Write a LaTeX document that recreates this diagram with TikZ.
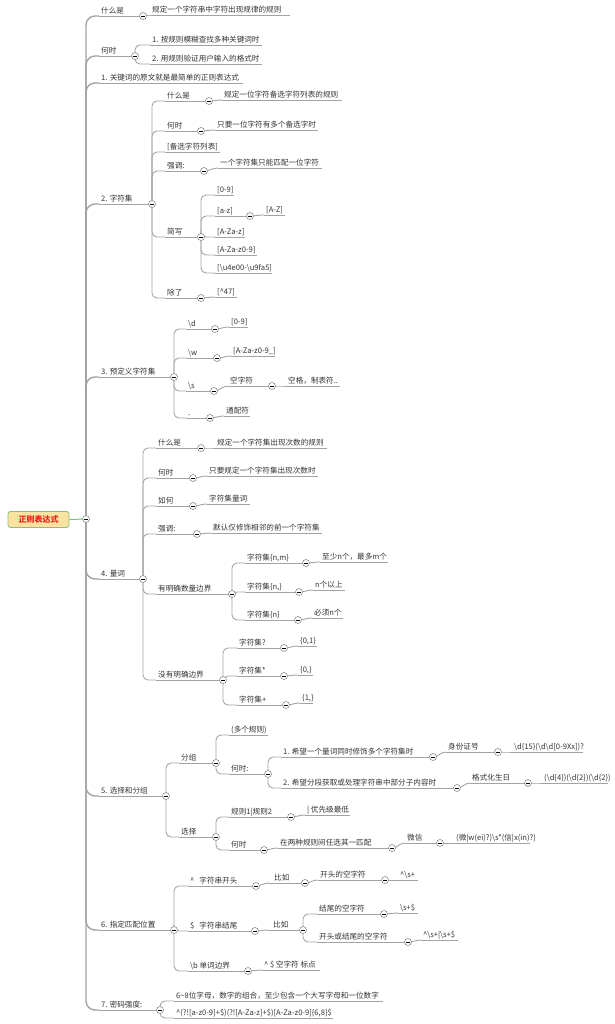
\documentclass[tikz,border=0pt]{standalone}
\usepackage{fontspec}
\setmainfont{Noto Sans CJK SC}
\usetikzlibrary{backgrounds}
\definecolor{txtc}{HTML}{333333}
\definecolor{linec}{HTML}{A3A3A3}
\definecolor{circc}{HTML}{8C8C8C}
\definecolor{rootfill}{HTML}{FCE3A0}
\definecolor{rootdraw}{HTML}{86C07F}
\definecolor{rootred}{HTML}{E8231B}
\definecolor{rootline}{HTML}{7DBF7D}
\tikzset{
 txt/.style={anchor=base west, inner sep=0pt, text=txtc, font=\fontsize{7.6}{9}\selectfont},
 uline/.style={draw=linec, line width=0.9pt},
 conn/.style={draw=linec, line width=0.9pt},
 conn1/.style={draw=linec, line width=1.4pt},
 coll/.style={circle, draw=circc, fill=white, line width=0.6pt, minimum size=7pt, inner sep=0pt,
   path picture={\draw[black, line width=0.8pt] ([xshift=-2pt]path picture bounding box.center) -- ([xshift=2pt]path picture bounding box.center);}},
 rootbox/.style={draw=rootdraw, fill=rootfill, rounded corners=2.5pt, minimum width=61pt, minimum height=16pt,
   line width=0.8pt, text=rootred, inner sep=0pt, font=\fontsize{8}{9}\selectfont\bfseries}
}
\newcommand\tleaf[5]{\coordinate (#1-i) at (#2,#4); \draw[uline] (#2,#4) -- (#3,#4); \node[txt] (#1) at (#2+2,#4-2.5) {#5};}
\newcommand\tpar[5]{\tleaf{#1}{#2}{#3}{#4}{#5} \node[coll] (#1-c) at (#3,#4) {};}
\newcommand\cmulti[2]{\begin{scope}[on background layer]\draw[conn, rounded corners=5pt] (#1-c.center) |- (#2-i);\end{scope}}
\newcommand\csingle[2]{\begin{scope}[on background layer]\draw[conn] (#1-c.center) to[out=0,in=180] (#2-i);\end{scope}}
\newcommand\cmain[1]{\begin{scope}[on background layer]\draw[conn1, rounded corners=9pt] (m-c.center) |- (#1-i);\end{scope}}
\begin{document}
\begin{tikzpicture}[x=1pt,y=-1pt]
\useasboundingbox (0,0) rectangle (614,1024);
% root
\node[rootbox] (root) at (38.5,519.5) {正则表达式};
\node[coll] (m-c) at (86,519) {};
\begin{scope}[on background layer]\draw[rootline, line width=1pt] (root.east) -- (m-c.center);\end{scope}

% level 1
\tpar{a1}{99}{143}{16}{什么是}
\tleaf{a1a}{150}{290}{15}{规定一个字符串中字符出现规律的规则}
\tpar{a2}{99}{135}{56}{何时}
\tleaf{a2a}{150}{262}{45}{1. 按规则模糊查找多种关键词时}
\tleaf{a2b}{150}{262}{64}{2. 用规则验证用户输入的格式时}
\tleaf{a3}{99}{243}{83}{1. 关键词的原文就是最简单的正则表达式}
\tpar{a4}{99}{152}{204}{2. 字符集}
\tpar{a5}{99}{174}{377}{3. 预定义字符集}
\tpar{a6}{99}{143}{579}{4. 量词}
\tpar{a7}{99}{166}{796}{5. 选择和分组}
\tpar{a8}{99}{174}{930}{6. 指定匹配位置}
\tpar{a9}{99}{160}{1010}{7. 密码强度:}
\foreach \n in {a1,a2,a3,a4,a5,a6,a7,a8,a9} {\cmain{\n}}
\csingle{a1}{a1a}
\cmulti{a2}{a2a}\cmulti{a2}{a2b}

% 2. 字符集
\tpar{b1}{165}{209}{101}{什么是}
\tleaf{b1a}{222}{342}{100}{规定一位字符备选字符列表的规则}
\tpar{b2}{165}{201}{131}{何时}
\tleaf{b2a}{215}{318}{130}{只要一位字符有多个备选字时}
\tleaf{b3}{165}{220}{152}{[备选字符列表]}
\tpar{b4}{165}{204}{171}{强调:}
\tleaf{b4a}{218}{322}{168}{一个字符集只能匹配一位字符}
\tpar{b5}{165}{201}{237}{简写}
\tleaf{b5a}{215}{234}{195}{[0-9]}
\tpar{b5b}{215}{250}{216}{[a-z]}
\tleaf{b5b1}{264}{285}{215}{[A-Z]}
\tleaf{b5c}{215}{245}{237}{[A-Za-z]}
\tleaf{b5d}{215}{257}{255}{[A-Za-z0-9]}
\tleaf{b5e}{215}{272}{273}{[\textbackslash u4e00-\textbackslash u9fa5]}
\tpar{b6}{165}{201}{298}{除了}
\tleaf{b6a}{215}{237}{297}{[\textasciicircum 47]}
\foreach \n in {b1,b2,b3,b4,b5,b6} {\cmulti{a4}{\n}}
\csingle{b1}{b1a}\csingle{b2}{b2a}\csingle{b4}{b4a}
\foreach \n in {b5a,b5b,b5c,b5d,b5e} {\cmulti{b5}{\n}}
\csingle{b5b}{b5b1}\csingle{b6}{b6a}

% 3. 预定义字符集
\tpar{c1}{186}{215}{329}{\textbackslash d}
\tleaf{c1a}{229}{248}{327}{[0-9]}
\tpar{c2}{186}{217}{358}{\textbackslash w}
\tleaf{c2a}{231}{275}{356}{[A-Za-z0-9\_]}
\tpar{c3}{186}{214}{391}{\textbackslash s}
\tpar{c3a}{228}{272}{386}{空字符}
\tleaf{c3a1}{286}{340}{386}{空格，制表符..}
\tpar{c4}{186}{210}{418}{.}
\tleaf{c4a}{224}{250}{416}{通配符}
\foreach \n in {c1,c2,c3,c4} {\cmulti{a5}{\n}}
\csingle{c1}{c1a}\csingle{c2}{c2a}\csingle{c3}{c3a}\csingle{c3a}{c3a1}\csingle{c4}{c4a}

% 4. 量词
\tpar{d1}{156}{201}{448}{什么是}
\tleaf{d1a}{215}{327}{448}{规定一个字符集出现次数的规则}
\tpar{d2}{156}{193}{478}{何时}
\tleaf{d2a}{207}{318}{476}{只要规定一个字符集出现次数时}
\tpar{d3}{156}{193}{506}{如何}
\tleaf{d3a}{207}{250}{504}{字符集量词}
\tpar{d4}{156}{197}{534}{强调:}
\tleaf{d4a}{211}{322}{533}{默认仅修饰相邻的前一个字符集}
\tpar{d5}{156}{232}{594}{有明确数量边界}
\tpar{d5a}{245}{306}{563}{字符集\{n,m\}}
\tleaf{d5a1}{320}{388}{562}{至少n个，最多m个}
\tpar{d5b}{245}{299}{592}{字符集\{n,\}}
\tleaf{d5b1}{313}{345}{590}{n个以上}
\tpar{d5c}{245}{298}{620}{字符集\{n\}}
\tleaf{d5c1}{312}{343}{618}{必须n个}
\tpar{d6}{156}{223}{680}{没有明确边界}
\tpar{d6a}{237}{284}{648}{字符集?}
\tleaf{d6a1}{298}{317}{646}{\{0,1\}}
\tpar{d6b}{237}{284}{676}{字符集*}
\tleaf{d6b1}{298}{313}{675}{\{0,\}}
\tpar{d6c}{237}{286}{705}{字符集+}
\tleaf{d6c1}{300}{313}{703}{\{1,\}}
\foreach \n in {d1,d2,d3,d4,d5,d6} {\cmulti{a6}{\n}}
\csingle{d1}{d1a}\csingle{d2}{d2a}\csingle{d3}{d3a}\csingle{d4}{d4a}
\foreach \n in {d5a,d5b,d5c} {\cmulti{d5}{\n}}
\csingle{d5a}{d5a1}\csingle{d5b}{d5b1}\csingle{d5c}{d5c1}
\foreach \n in {d6a,d6b,d6c} {\cmulti{d6}{\n}}
\csingle{d6a}{d6a1}\csingle{d6b}{d6b1}\csingle{d6c}{d6c1}

% 5. 选择和分组
\tpar{e1}{179}{216}{763}{分组}
\tleaf{e1a}{229}{268}{735}{(多个规则)}
\tpar{e1b}{229}{268}{774}{何时:}
\tpar{e1b1}{281}{433}{757}{1. 希望一个量词同时修饰多个字符集时}
\tpar{e1b1a}{446}{498}{752}{身份证号}
\tleaf{e1b1a1}{512}{583}{752}{\textbackslash d\{15\}(\textbackslash d\textbackslash d[0-9Xx])?}
\tpar{e1b2}{281}{457}{788}{2. 希望分段获取或处理字符串中部分子内容时}
\tpar{e1b2a}{470}{528}{783}{格式化生日}
\tleaf{e1b2a1}{542}{608}{783}{(\textbackslash d\{4\})(\textbackslash d\{2\})(\textbackslash d\{2\})}
\tpar{e2}{179}{216}{837}{选择}
\tpar{e2a}{229}{291}{817}{规则1|规则2}
\tleaf{e2a1}{305}{350}{815}{| 优先级最低}
\tpar{e2b}{229}{264}{850}{何时}
\tpar{e2b1}{278}{392}{848}{在两种规则间任选其一匹配}
\tpar{e2b1a}{405}{440}{843}{微信}
\tleaf{e2b1a1}{454}{530}{843}{(微|w(ei)?)\textbackslash s*(信|x(in)?)}
\cmulti{a7}{e1}\cmulti{a7}{e2}
\cmulti{e1}{e1a}\cmulti{e1}{e1b}
\cmulti{e1b}{e1b1}\cmulti{e1b}{e1b2}
\csingle{e1b1}{e1b1a}\csingle{e1b1a}{e1b1a1}
\csingle{e1b2}{e1b2a}\csingle{e1b2a}{e1b2a1}
\cmulti{e2}{e2a}\cmulti{e2}{e2b}
\csingle{e2a}{e2a1}\csingle{e2b}{e2b1}\csingle{e2b1}{e2b1a}\csingle{e2b1a}{e2b1a1}

% 6. 指定匹配位置
\tpar{f1}{188}{256}{886}{\textasciicircum\hspace{5pt}字符串开头}
\tpar{f1a}{269}{305}{883}{\hspace{3pt}比如}
\tpar{f1a1}{318}{385}{880}{开头的空字符}
\tleaf{f1a1a}{398}{418}{880}{\textasciicircum\textbackslash s+}
\tpar{f2}{188}{255}{931}{\$\hspace{5pt}字符串结尾}
\tpar{f2a}{268}{303}{930}{\hspace{3pt}比如}
\tpar{f2a1}{317}{384}{914}{结尾的空字符}
\tleaf{f2a1a}{398}{418}{913}{\textbackslash s+\$}
\tpar{f2a2}{317}{408}{942}{开头或结尾的空字符}
\tleaf{f2a2a}{421}{458}{940}{\textasciicircum\textbackslash s+|\textbackslash s+\$}
\tpar{f3}{188}{248}{971}{\textbackslash b 单词边界}
\tleaf{f3a}{262}{320}{970}{\textasciicircum{} \$ 空字符 标点}
\foreach \n in {f1,f2,f3} {\cmulti{a8}{\n}}
\csingle{f1}{f1a}\csingle{f1a}{f1a1}\csingle{f1a1}{f1a1a}
\csingle{f2}{f2a}\cmulti{f2a}{f2a1}\cmulti{f2a}{f2a2}
\csingle{f2a1}{f2a1a}\csingle{f2a2}{f2a2a}
\csingle{f3}{f3a}

% 7. 密码强度
\tleaf{g1}{174}{383}{1001}{6\textasciitilde 8位字母，数字的组合，至少包含一个大写字母和一位数字}
\tleaf{g2}{174}{333}{1018}{\textasciicircum(?![a-z0-9]+\$)(?![A-Za-z]+\$)[A-Za-z0-9]\{6,8\}\$}
\cmulti{a9}{g1}\cmulti{a9}{g2}
\end{tikzpicture}
\end{document}
